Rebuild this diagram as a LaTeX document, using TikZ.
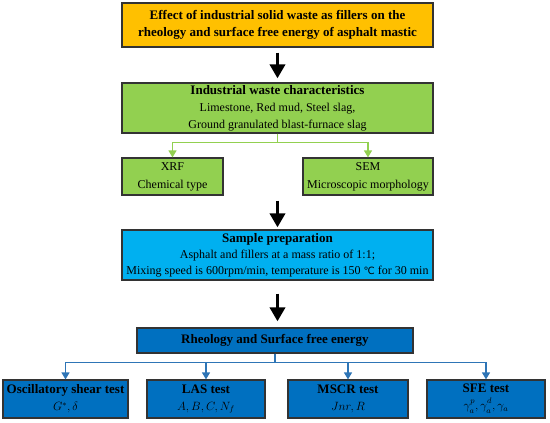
\documentclass[tikz,border=0pt]{standalone}
\usepackage{fontspec}
\usepackage{xcolor}
\usepackage{amsmath}
\setmainfont{Liberation Serif}
\newfontfamily\symfont{DejaVu Sans}
\usetikzlibrary{arrows.meta}

\definecolor{orangebox}{HTML}{FFC000}
\definecolor{greenbox}{HTML}{92D050}
\definecolor{cyanbox}{HTML}{00B0F0}
\definecolor{bluebox}{HTML}{0070C0}
\definecolor{blueline}{HTML}{2E75B6}

\newcommand{\gsup}[1]{\raisebox{1.5pt}{$\scriptstyle #1$}}
\newcommand{\gsub}[1]{\raisebox{-1pt}{$\scriptstyle #1$}}

\begin{document}
\begin{tikzpicture}[x=1pt,y=-1pt,
	box/.style={draw=black!80,line width=1.2pt,align=center,inner sep=0pt},
	bigarrow/.style={line width=3.5pt,-{Triangle[length=14pt,width=15pt]}},
	greenlink/.style={draw=greenbox,line width=1.2pt,-{Triangle[length=7pt,width=8pt]}},
	bluelink/.style={draw=blueline,line width=1.2pt,-{Triangle[length=7pt,width=8pt]}}]
	\useasboundingbox (0,0) rectangle (550,423);
	% main chain
	\node [box,fill=orangebox,minimum width=311pt,minimum height=44pt,font=\bfseries\fontsize{13}{17}\selectfont] (topic) at (277.5,25) {Effect of industrial solid waste as fillers on the\\rheology and surface free energy of asphalt mastic};
	\node [box,fill=greenbox,minimum width=311pt,minimum height=50pt,font=\fontsize{12}{17}\selectfont] (waste) at (277.5,108) {{\fontsize{13}{17}\selectfont\bfseries Industrial waste characteristics}\\Limestone, Red mud, Steel slag,\\Ground granulated blast-furnace slag};
	\node [box,fill=greenbox,minimum width=101pt,minimum height=37pt,font=\fontsize{12}{18}\selectfont] (xrf) at (172.5,176.5) {XRF\\Chemical type};
	\node [box,fill=greenbox,minimum width=130pt,minimum height=37pt,font=\fontsize{12}{18}\selectfont] (sem) at (368,176.5) {SEM\\Microscopic morphology};
	\node [box,fill=cyanbox,minimum width=311pt,minimum height=50pt,font=\fontsize{12}{16}\selectfont] (sample) at (277.5,255) {{\fontsize{13}{16}\selectfont\bfseries Sample preparation}\\Asphalt and fillers at a mass ratio of 1:1;\\Mixing speed is 600rpm/min, temperature is 150 {\symfont\fontsize{10}{10}\selectfont ℃} for 30 min};
	\node [box,fill=bluebox,minimum width=276pt,minimum height=25pt,font=\bfseries\fontsize{13}{15}\selectfont] (rheo) at (275,340.5) {Rheology and Surface free energy};
	% tests
	\node [box,fill=bluebox,minimum width=125pt,minimum height=38pt,font=\fontsize{12}{17}\selectfont] (osc) at (65.5,399) {{\fontsize{13}{17}\selectfont\bfseries Oscillatory shear test}\\$G^{*},\delta$};
	\node [box,fill=bluebox,minimum width=118pt,minimum height=38pt,font=\fontsize{12}{17}\selectfont] (las) at (206,399) {{\fontsize{13}{17}\selectfont\bfseries LAS test}\\$A,B,C,N_f$};
	\node [box,fill=bluebox,minimum width=120pt,minimum height=38pt,font=\fontsize{12}{17}\selectfont] (mscr) at (348,399) {{\fontsize{13}{17}\selectfont\bfseries MSCR test}\\$Jnr,R$};
	\node [box,fill=bluebox,minimum width=118pt,minimum height=38pt,font=\fontsize{12}{17}\selectfont] (sfe) at (486,399) {{\fontsize{13}{17}\selectfont\bfseries SFE test}\\$\gamma^{\gsup{p}}_{\gsub{a}},\gamma^{\gsup{d}}_{\gsub{a}},\gamma_{a}$};
	% arrows (yshift is in page direction, so minus is down)
	\draw [bigarrow] ([yshift=-5pt]topic.south) -- ([yshift=4pt]waste.north);
	\draw [bigarrow] ([yshift=-5pt]xrf.south -| waste.south) -- ([yshift=2pt]sample.north);
	\draw [bigarrow] ([yshift=-13pt]sample.south) -- ([yshift=6pt]rheo.north -| sample.south);
	\draw [greenlink] (waste.south) -- ++(0,9) -| (xrf.north);
	\draw [greenlink] (waste.south) -- ++(0,9) -| (sem.north);
	\draw [bluelink] (rheo.south) -- ++(0,9) -| (osc.north);
	\draw [bluelink] (rheo.south) -- ++(0,9) -| (las.north);
	\draw [bluelink] (rheo.south) -- ++(0,9) -| (mscr.north);
	\draw [bluelink] (rheo.south) -- ++(0,9) -| (sfe.north);
\end{tikzpicture}
\end{document}
